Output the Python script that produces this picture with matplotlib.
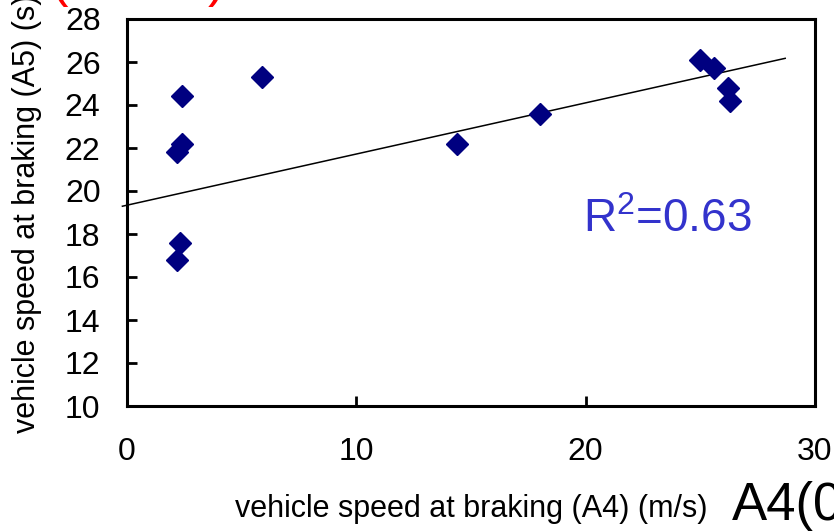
import matplotlib
matplotlib.use('Agg')
import matplotlib.pyplot as plt
import numpy as np

plt.rcParams['font.family'] = ['Liberation Sans', 'DejaVu Sans']
plt.rcParams['mathtext.fontset'] = 'custom'
plt.rcParams['mathtext.rm'] = 'Liberation Sans'
plt.rcParams['mathtext.it'] = 'Liberation Sans'

# braking data
a4_speed = [2.2, 2.3, 2.2, 2.4, 2.4, 5.9, 14.4, 18.0, 25.0, 25.6, 26.2, 26.3]
a5_speed = [16.8, 17.6, 21.8, 22.2, 24.4, 25.3, 22.2, 23.6, 26.1, 25.7, 24.8, 24.2]

# trend line as drawn in the chart
trend_intercept = 19.34
trend_slope = 0.238
trend_span = (-0.2, 28.7)
r2_label = r'R$^\mathrm{2}$=0.63'

x_ticks = [0, 10, 20, 30]
y_ticks = list(range(10, 29, 2))

fig = plt.figure(figsize=(8.34, 5.31), dpi=100)
ax = fig.add_axes([127/834, 1-406/531, (815-127)/834, (406-19)/531])

tx = np.array(trend_span)
ax.plot(tx, trend_intercept + trend_slope*tx, color='black', lw=1.1, clip_on=False, zorder=2)
ax.plot(a4_speed, a5_speed, ls='none', marker='D', ms=11, color='#000080', mec='#000080', zorder=3)

ax.set_xlim(0, 30)
ax.set_ylim(10, 28)
ax.set_xticks(x_ticks)
ax.set_yticks(y_ticks)
ax.tick_params(direction='in', length=7, width=2, labelsize=23)
ax.tick_params(axis='y', pad=19)
ax.tick_params(axis='x', pad=22)
for s in ax.spines.values():
    s.set_linewidth(2.2)

ax.text(19.9, 18.1, r2_label, color='#3333CC', fontsize=33, ha='left', va='baseline')

fig.text(235/834, 1-517/531, 'vehicle speed at braking (A4) (m/s)', fontsize=22, ha='left', va='baseline')
fig.text(732/834, 1-520/531, 'A4(0', fontsize=38, ha='left', va='baseline')
fig.text(27/834, 1-433/531, 'vehicle speed at braking (A5) (s)', fontsize=22, rotation=90, ha='center', va='bottom')

# red brackets of the clipped title above
fig.text(60/834, 1+4/531, '(', color='red', fontsize=38, ha='center', va='baseline')
fig.text(216/834, 1+4/531, ')', color='red', fontsize=38, ha='center', va='baseline')

plt.savefig('out.png', dpi=100)
plt.close()
